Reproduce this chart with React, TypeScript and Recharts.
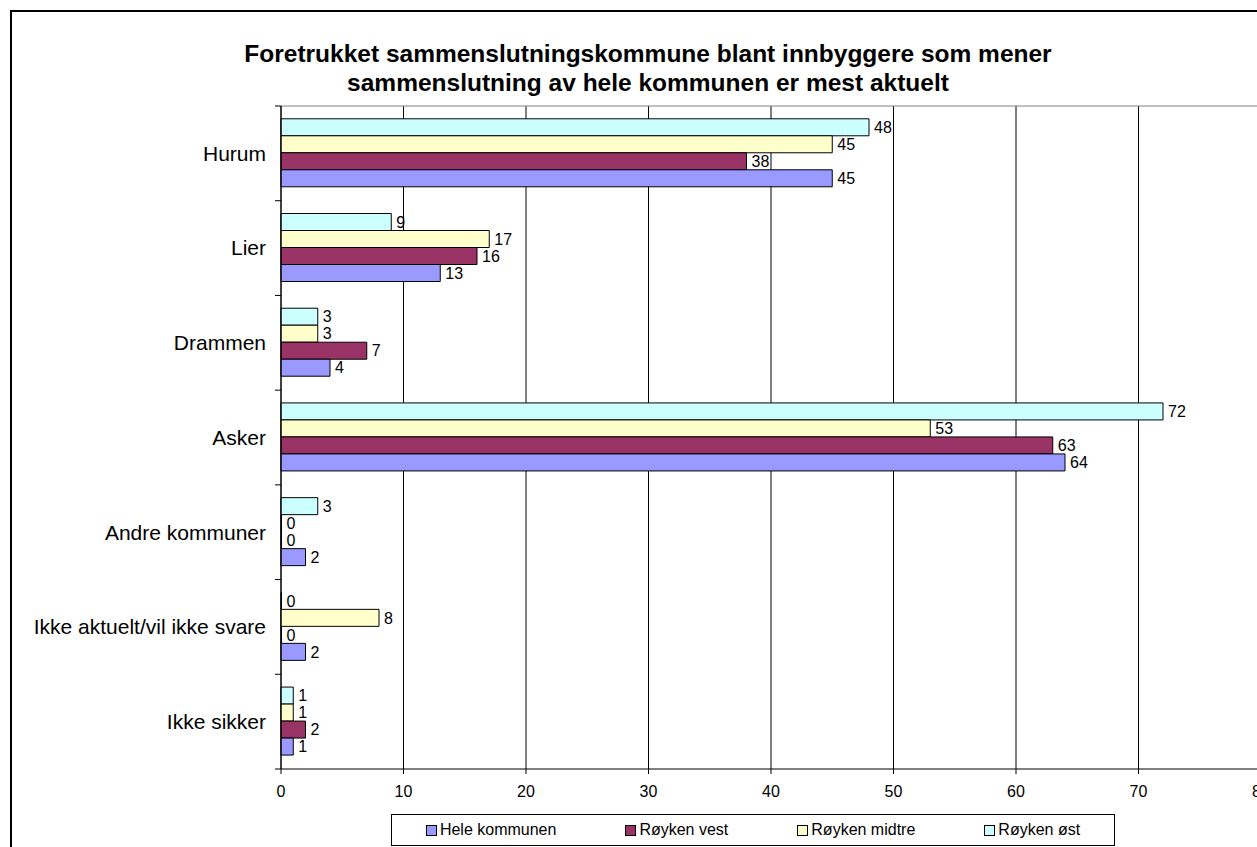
import { BarChart, Bar, XAxis, YAxis, CartesianGrid, Legend, LabelList } from 'recharts';

const categories = [
  'Hurum',
  'Lier',
  'Drammen',
  'Asker',
  'Andre kommuner',
  'Ikke aktuelt/vil ikke svare',
  'Ikke sikker',
];

const heleKommunen = [45, 13, 4, 64, 2, 2, 1];
const roykenVest = [38, 16, 7, 63, 0, 0, 2];
const roykenMidtre = [45, 17, 3, 53, 0, 8, 1];
const roykenOst = [48, 9, 3, 72, 3, 0, 1];

const xTicks = [0, 10, 20, 30, 40, 50, 60, 70, 80];

// legend order (Excel style); bars are drawn in reverse so øst ends up on top
const series = [
  { key: 'hele', name: 'Hele kommunen', color: '#9999ff', values: heleKommunen },
  { key: 'vest', name: 'Røyken vest', color: '#993366', values: roykenVest },
  { key: 'midtre', name: 'Røyken midtre', color: '#ffffcc', values: roykenMidtre },
  { key: 'ost', name: 'Røyken øst', color: '#ccffff', values: roykenOst },
];

const data = categories.map((name, i) => {
  const row: Record<string, string | number> = { name };
  series.forEach((s) => {
    row[s.key] = s.values[i];
  });
  return row;
});

const FONT = '"Liberation Sans", Arial, sans-serif';

function CategoryTick(props: any) {
  const { x, y, payload, index } = props;
  const half = payload?.offset ?? 0;
  const last = index === categories.length - 1;
  return (
    <g>
      <line x1={x - 6} x2={x} y1={y - half} y2={y - half} stroke="#000" />
      {last && <line x1={x - 6} x2={x} y1={y + half} y2={y + half} stroke="#000" />}
      <text x={x - 15} y={y} dy="0.35em" textAnchor="end" fontSize={21} fontFamily={FONT} fill="#000">
        {payload.value}
      </text>
    </g>
  );
}

function LegendBox() {
  return (
    <div
      style={{
        boxSizing: 'border-box',
        width: 724,
        height: 32,
        border: '1px solid #000',
        background: '#fff',
        display: 'flex',
        alignItems: 'center',
        justifyContent: 'center',
        gap: 69,
        fontFamily: FONT,
        fontSize: 16,
        color: '#000',
      }}
    >
      {series.map((s) => (
        <div key={s.key} style={{ display: 'flex', alignItems: 'center' }}>
          <span
            style={{
              display: 'inline-block',
              boxSizing: 'border-box',
              width: 11,
              height: 11,
              background: s.color,
              border: '1px solid #000',
              marginRight: 3,
            }}
          />
          <span>{s.name}</span>
        </div>
      ))}
    </div>
  );
}

export default function App() {
  return (
    <div style={{ position: 'fixed', left: 0, top: 0, width: 1257, height: 847, overflow: 'hidden', background: '#fff' }}>
      <div
        style={{
          position: 'absolute',
          left: 10,
          top: 10,
          width: 1300,
          height: 900,
          border: '2px solid #000',
          background: '#fff',
        }}
      >
        <div
          style={{
            position: 'absolute',
            left: 0,
            top: 27,
            width: 1272,
            textAlign: 'center',
            fontFamily: FONT,
            fontWeight: 'bold',
            fontSize: 24.5,
            lineHeight: '29px',
            color: '#000',
          }}
        >
          Foretrukket sammenslutningskommune blant innbyggere som mener
          <br />
          sammenslutning av hele kommunen er mest aktuelt
        </div>
        <BarChart
          width={1290}
          height={880}
          data={data}
          layout="vertical"
          margin={{ top: 94, right: 41, bottom: 83, left: 0 }}
          barCategoryGap="13.5%"
          barGap={0}
          style={{ position: 'absolute', left: 0, top: 0 }}
        >
          <CartesianGrid horizontal={false} stroke="#000" strokeWidth={1} />
          {/* grey top border of the plot area */}
          <CartesianGrid
            vertical={false}
            stroke="#808080"
            horizontalCoordinatesGenerator={({ offset }: any) => [offset.top]}
          />
          <XAxis
            type="number"
            domain={[0, 80]}
            ticks={xTicks}
            interval={0}
            tickSize={5}
            tickMargin={12}
            height={40}
            stroke="#000"
            tick={{ fill: '#000', fontSize: 16, fontFamily: FONT }}
          />
          <YAxis
            type="category"
            dataKey="name"
            width={269}
            tickSize={0}
            tickMargin={0}
            tickLine={false}
            interval={0}
            stroke="#000"
            tick={<CategoryTick />}
          />
          <Legend
            layout="vertical"
            verticalAlign="middle"
            align="center"
            wrapperStyle={{ left: 379, top: 802, width: 724 }}
            content={() => <LegendBox />}
          />
          {[...series].reverse().map((s) => (
            <Bar
              key={s.key}
              dataKey={s.key}
              name={s.name}
              fill={s.color}
              stroke="#000"
              strokeWidth={1}
              minPointSize={0.5}
              isAnimationActive={false}
            >
              <LabelList
                dataKey={s.key}
                position="right"
                offset={5}
                fill="#000"
                fontSize={16}
                fontFamily={FONT}
              />
            </Bar>
          ))}
        </BarChart>
      </div>
    </div>
  );
}
